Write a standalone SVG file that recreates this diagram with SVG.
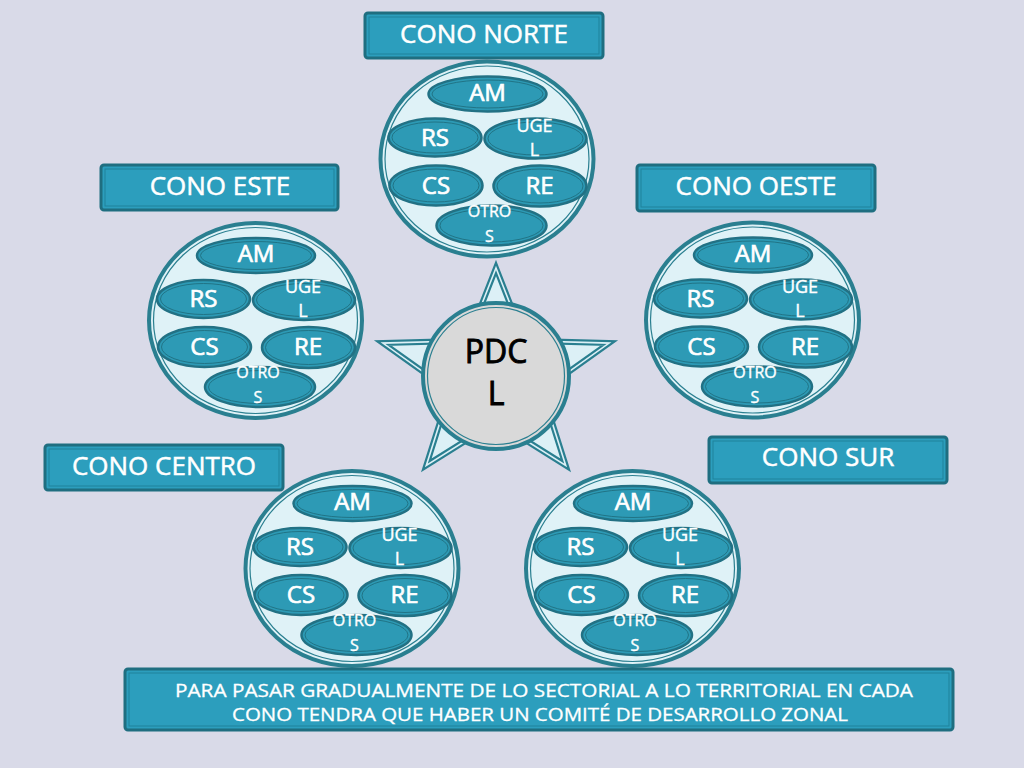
<svg xmlns="http://www.w3.org/2000/svg" width="1024" height="768" viewBox="0 0 1024 768">
<style>
.bg{fill:#d9dae8}
.box{fill:#2c9ebd;stroke:#1f6e80;stroke-width:3}
.boxin{fill:none;stroke:#1d7c93;stroke-width:1;opacity:.8}
.lbl{font-family:"Open Sans","Liberation Sans",sans-serif;font-size:26px;fill:#ffffff;stroke:#ffffff;stroke-width:0.5;text-anchor:middle}
.big{fill:#dff2f7;stroke:#2a7f90;stroke-width:4}
.bigin{fill:none;stroke:#2a7f90;stroke-width:1.2}
.el{fill:#2d9ab5;stroke:#227184;stroke-width:2.5}
.elin{fill:none;stroke:#1f6f80;stroke-width:0.9}
.t24{font-family:"Open Sans","Liberation Sans",sans-serif;font-size:24px;fill:#ffffff;stroke:#ffffff;stroke-width:0.7;text-anchor:middle}
.t18{font-family:"Open Sans","Liberation Sans",sans-serif;font-size:18px;fill:#ffffff;stroke:#ffffff;stroke-width:0.4;text-anchor:middle}
.t16{font-family:"Open Sans","Liberation Sans",sans-serif;font-size:16px;fill:#ffffff;stroke:#ffffff;stroke-width:0.4;text-anchor:middle}
.foot{font-family:"Open Sans","Liberation Sans",sans-serif;font-size:18px;fill:#ffffff;stroke:#ffffff;stroke-width:0.3;text-anchor:middle}
.pdc{font-family:"Open Sans","Liberation Sans",sans-serif;font-size:32px;fill:#000000;stroke:#000000;stroke-width:0.9;text-anchor:middle}
.star{fill:#dcf0f6;stroke:#2a7f90;stroke-width:6;stroke-linejoin:miter;stroke-miterlimit:10}
.starin{fill:none;stroke:#dcf0f6;stroke-width:1.6;stroke-miterlimit:10}
</style>
<rect class="bg" x="0" y="0" width="1024" height="768"/>

<g id="pdcl">
  <polygon class="star" points="496,268 524.5,340.8 609.1,343.1 542.1,390.8 565.7,465.4 496,421.7 426.3,465.4 449.9,390.8 382.9,343.1 467.5,340.8"/>
  <polygon class="starin" points="496,268 524.5,340.8 609.1,343.1 542.1,390.8 565.7,465.4 496,421.7 426.3,465.4 449.9,390.8 382.9,343.1 467.5,340.8"/>
  <circle cx="496" cy="376" r="73" fill="#d9d9d9" stroke="#2a7f90" stroke-width="4"/>
  <circle cx="496" cy="376" r="68.5" fill="none" stroke="#2a7f90" stroke-width="1.2"/>
  <text class="pdc" x="496" y="363">PDC</text>
  <text class="pdc" x="496" y="405">L</text>
</g>

<g id="connectors"></g>

<g id="cluster-norte" transform="translate(487,159)">
  <ellipse class="big" cx="0" cy="0" rx="106.5" ry="97.5"/><ellipse class="bigin" cx="0" cy="0" rx="102" ry="93"/>
  <ellipse class="el" cx="0.5" cy="-65" rx="59" ry="17.5"/><ellipse class="elin" cx="0.5" cy="-65" rx="55.5" ry="14"/>
  <ellipse class="el" cx="-52" cy="-21.5" rx="46.5" ry="19"/><ellipse class="elin" cx="-52" cy="-21.5" rx="43" ry="15.5"/>
  <ellipse class="el" cx="48.5" cy="-20.5" rx="51" ry="20"/><ellipse class="elin" cx="48.5" cy="-20.5" rx="47.5" ry="16.5"/>
  <ellipse class="el" cx="-51" cy="26.5" rx="46.5" ry="20"/><ellipse class="elin" cx="-51" cy="26.5" rx="43" ry="16.5"/>
  <ellipse class="el" cx="53" cy="27" rx="46.5" ry="20.5"/><ellipse class="elin" cx="53" cy="27" rx="43" ry="17"/>
  <ellipse class="el" cx="4.5" cy="66.5" rx="55" ry="20"/><ellipse class="elin" cx="4.5" cy="66.5" rx="51.5" ry="16.5"/>
  <text class="t24" x="0.5" y="-58.5">AM</text>
  <text class="t24" x="-52" y="-13.5">RS</text>
  <text class="t18" x="47.5" y="-27.5">UGE</text><text class="t18" x="47.5" y="-3.5">L</text>
  <text class="t24" x="-51" y="34.5">CS</text>
  <text class="t24" x="52.5" y="34.5">RE</text>
  <text class="t16" x="2.5" y="57.5">OTRO</text><text class="t16" x="2.5" y="82.5">S</text>
</g>

<g id="cluster-este" transform="translate(255.5,320.5)">
  <ellipse class="big" cx="0" cy="0" rx="106.5" ry="97.5"/><ellipse class="bigin" cx="0" cy="0" rx="102" ry="93"/>
  <ellipse class="el" cx="0.5" cy="-65" rx="59" ry="17.5"/><ellipse class="elin" cx="0.5" cy="-65" rx="55.5" ry="14"/>
  <ellipse class="el" cx="-52" cy="-21.5" rx="46.5" ry="19"/><ellipse class="elin" cx="-52" cy="-21.5" rx="43" ry="15.5"/>
  <ellipse class="el" cx="48.5" cy="-20.5" rx="51" ry="20"/><ellipse class="elin" cx="48.5" cy="-20.5" rx="47.5" ry="16.5"/>
  <ellipse class="el" cx="-51" cy="26.5" rx="46.5" ry="20"/><ellipse class="elin" cx="-51" cy="26.5" rx="43" ry="16.5"/>
  <ellipse class="el" cx="53" cy="27" rx="46.5" ry="20.5"/><ellipse class="elin" cx="53" cy="27" rx="43" ry="17"/>
  <ellipse class="el" cx="4.5" cy="66.5" rx="55" ry="20"/><ellipse class="elin" cx="4.5" cy="66.5" rx="51.5" ry="16.5"/>
  <text class="t24" x="0.5" y="-58.5">AM</text>
  <text class="t24" x="-52" y="-13.5">RS</text>
  <text class="t18" x="47.5" y="-27.5">UGE</text><text class="t18" x="47.5" y="-3.5">L</text>
  <text class="t24" x="-51" y="34.5">CS</text>
  <text class="t24" x="52.5" y="34.5">RE</text>
  <text class="t16" x="2.5" y="57.5">OTRO</text><text class="t16" x="2.5" y="82.5">S</text>
</g>

<g id="cluster-oeste" transform="translate(752.5,320)">
  <ellipse class="big" cx="0" cy="0" rx="106.5" ry="97.5"/><ellipse class="bigin" cx="0" cy="0" rx="102" ry="93"/>
  <ellipse class="el" cx="0.5" cy="-65" rx="59" ry="17.5"/><ellipse class="elin" cx="0.5" cy="-65" rx="55.5" ry="14"/>
  <ellipse class="el" cx="-52" cy="-21.5" rx="46.5" ry="19"/><ellipse class="elin" cx="-52" cy="-21.5" rx="43" ry="15.5"/>
  <ellipse class="el" cx="48.5" cy="-20.5" rx="51" ry="20"/><ellipse class="elin" cx="48.5" cy="-20.5" rx="47.5" ry="16.5"/>
  <ellipse class="el" cx="-51" cy="26.5" rx="46.5" ry="20"/><ellipse class="elin" cx="-51" cy="26.5" rx="43" ry="16.5"/>
  <ellipse class="el" cx="53" cy="27" rx="46.5" ry="20.5"/><ellipse class="elin" cx="53" cy="27" rx="43" ry="17"/>
  <ellipse class="el" cx="4.5" cy="66.5" rx="55" ry="20"/><ellipse class="elin" cx="4.5" cy="66.5" rx="51.5" ry="16.5"/>
  <text class="t24" x="0.5" y="-58.5">AM</text>
  <text class="t24" x="-52" y="-13.5">RS</text>
  <text class="t18" x="47.5" y="-27.5">UGE</text><text class="t18" x="47.5" y="-3.5">L</text>
  <text class="t24" x="-51" y="34.5">CS</text>
  <text class="t24" x="52.5" y="34.5">RE</text>
  <text class="t16" x="2.5" y="57.5">OTRO</text><text class="t16" x="2.5" y="82.5">S</text>
</g>

<g id="cluster-centro" transform="translate(352,568.5)">
  <ellipse class="big" cx="0" cy="0" rx="106.5" ry="97.5"/><ellipse class="bigin" cx="0" cy="0" rx="102" ry="93"/>
  <ellipse class="el" cx="0.5" cy="-65" rx="59" ry="17.5"/><ellipse class="elin" cx="0.5" cy="-65" rx="55.5" ry="14"/>
  <ellipse class="el" cx="-52" cy="-21.5" rx="46.5" ry="19"/><ellipse class="elin" cx="-52" cy="-21.5" rx="43" ry="15.5"/>
  <ellipse class="el" cx="48.5" cy="-20.5" rx="51" ry="20"/><ellipse class="elin" cx="48.5" cy="-20.5" rx="47.5" ry="16.5"/>
  <ellipse class="el" cx="-51" cy="26.5" rx="46.5" ry="20"/><ellipse class="elin" cx="-51" cy="26.5" rx="43" ry="16.5"/>
  <ellipse class="el" cx="53" cy="27" rx="46.5" ry="20.5"/><ellipse class="elin" cx="53" cy="27" rx="43" ry="17"/>
  <ellipse class="el" cx="4.5" cy="66.5" rx="55" ry="20"/><ellipse class="elin" cx="4.5" cy="66.5" rx="51.5" ry="16.5"/>
  <text class="t24" x="0.5" y="-58.5">AM</text>
  <text class="t24" x="-52" y="-13.5">RS</text>
  <text class="t18" x="47.5" y="-27.5">UGE</text><text class="t18" x="47.5" y="-3.5">L</text>
  <text class="t24" x="-51" y="34.5">CS</text>
  <text class="t24" x="52.5" y="34.5">RE</text>
  <text class="t16" x="2.5" y="57.5">OTRO</text><text class="t16" x="2.5" y="82.5">S</text>
</g>

<g id="cluster-sur" transform="translate(632.5,568.5)">
  <ellipse class="big" cx="0" cy="0" rx="106.5" ry="97.5"/><ellipse class="bigin" cx="0" cy="0" rx="102" ry="93"/>
  <ellipse class="el" cx="0.5" cy="-65" rx="59" ry="17.5"/><ellipse class="elin" cx="0.5" cy="-65" rx="55.5" ry="14"/>
  <ellipse class="el" cx="-52" cy="-21.5" rx="46.5" ry="19"/><ellipse class="elin" cx="-52" cy="-21.5" rx="43" ry="15.5"/>
  <ellipse class="el" cx="48.5" cy="-20.5" rx="51" ry="20"/><ellipse class="elin" cx="48.5" cy="-20.5" rx="47.5" ry="16.5"/>
  <ellipse class="el" cx="-51" cy="26.5" rx="46.5" ry="20"/><ellipse class="elin" cx="-51" cy="26.5" rx="43" ry="16.5"/>
  <ellipse class="el" cx="53" cy="27" rx="46.5" ry="20.5"/><ellipse class="elin" cx="53" cy="27" rx="43" ry="17"/>
  <ellipse class="el" cx="4.5" cy="66.5" rx="55" ry="20"/><ellipse class="elin" cx="4.5" cy="66.5" rx="51.5" ry="16.5"/>
  <text class="t24" x="0.5" y="-58.5">AM</text>
  <text class="t24" x="-52" y="-13.5">RS</text>
  <text class="t18" x="47.5" y="-27.5">UGE</text><text class="t18" x="47.5" y="-3.5">L</text>
  <text class="t24" x="-51" y="34.5">CS</text>
  <text class="t24" x="52.5" y="34.5">RE</text>
  <text class="t16" x="2.5" y="57.5">OTRO</text><text class="t16" x="2.5" y="82.5">S</text>
</g>

<g id="label-norte">
  <rect class="box" x="365" y="13" width="238" height="45" rx="3"/><rect class="boxin" x="369" y="17" width="230" height="37"/>
  <text class="lbl" x="484" y="43">CONO NORTE</text>
</g>
<g id="label-este">
  <rect class="box" x="101" y="165" width="237" height="45" rx="3"/><rect class="boxin" x="105" y="169" width="229" height="37"/>
  <text class="lbl" x="220" y="195">CONO ESTE</text>
</g>
<g id="label-oeste">
  <rect class="box" x="637" y="165" width="238" height="46" rx="3"/><rect class="boxin" x="641" y="169" width="230" height="38"/>
  <text class="lbl" x="756" y="195">CONO OESTE</text>
</g>
<g id="label-sur">
  <rect class="box" x="709" y="437" width="238" height="46" rx="3"/><rect class="boxin" x="713" y="441" width="230" height="38"/>
  <text class="lbl" x="828" y="466">CONO SUR</text>
</g>
<g id="label-centro">
  <rect class="box" x="45" y="445" width="238" height="45" rx="3"/><rect class="boxin" x="49" y="449" width="230" height="37"/>
  <text class="lbl" x="164" y="475">CONO CENTRO</text>
</g>

<g id="nota">
  <rect class="box" x="125" y="669" width="828" height="61" rx="3"/><rect class="boxin" x="129" y="673" width="820" height="53"/>
  <text class="foot" x="544" y="697" textLength="738" lengthAdjust="spacingAndGlyphs">PARA PASAR GRADUALMENTE DE LO SECTORIAL A LO TERRITORIAL EN CADA</text>
  <text class="foot" x="540" y="721" textLength="616" lengthAdjust="spacingAndGlyphs">CONO TENDRA QUE HABER UN COMITÉ DE DESARROLLO ZONAL</text>
</g>
</svg>
